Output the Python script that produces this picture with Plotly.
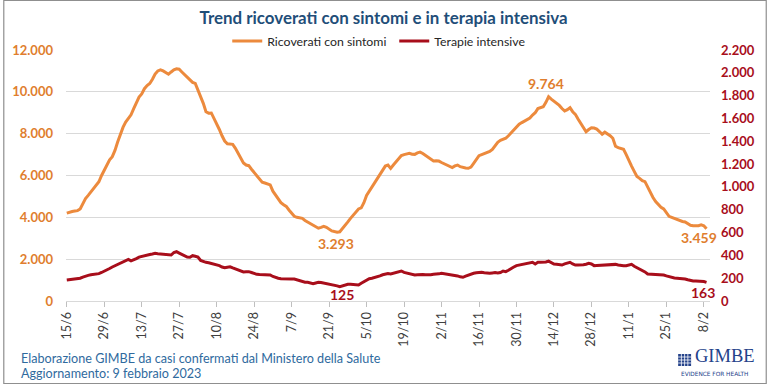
import plotly.graph_objects as go
import pandas as pd
import numpy as np

start_date = "2022-06-15"

ricoverati = [
    4200, 4250, 4280, 4300, 4320, 4400, 4650, 4900, 5050, 5200,
    5350, 5500, 5700, 6000, 6250, 6500, 6750, 6900, 7200, 7600,
    8000, 8300, 8550, 8700, 8900, 9200, 9500, 9750, 9900, 10150,
    10300, 10400, 10600, 10850, 11000, 11050, 11000, 10900, 10840, 10950,
    11050, 11100, 11080, 10950, 10820, 10700, 10550, 10450, 10400, 10100,
    9800, 9450, 9050, 8980, 8990, 8750, 8450, 8200, 7900, 7650,
    7520, 7500, 7490, 7300, 7050, 6800, 6600, 6500, 6470, 6300,
    6150, 6000, 5800, 5680, 5640, 5580, 5550, 5250, 5050, 4900,
    4700, 4600, 4520, 4350, 4200, 4050, 4000, 3980, 3950, 3850,
    3780, 3720, 3650, 3560, 3480, 3520, 3570, 3520, 3420, 3350,
    3320, 3293, 3310, 3450, 3630, 3780, 3950, 4100, 4250, 4400,
    4450, 4700, 5050, 5250, 5450, 5650, 5850, 6020, 6250, 6450,
    6500, 6340, 6500, 6660, 6800, 6950, 7000, 7020, 7060, 7020,
    7010, 7080, 7120, 7050, 6950, 6850, 6750, 6690, 6700, 6690,
    6620, 6560, 6500, 6420, 6380, 6460, 6500, 6420, 6380, 6360,
    6345, 6400, 6580, 6750, 6950, 7000, 7050, 7090, 7150, 7250,
    7450, 7590, 7680, 7745, 7780, 7900, 8050, 8150, 8300, 8450,
    8530, 8600, 8650, 8750, 8890, 9000, 9200, 9250, 9290, 9500,
    9764, 9650, 9550, 9450, 9350, 9200, 9085, 9150, 9240, 9050,
    8925, 8700, 8495, 8300, 8095, 8200, 8285, 8270, 8220, 8100,
    7970, 8070, 8000, 7900, 7780, 7400, 7330, 7300, 7250, 7000,
    6700, 6450, 6200, 5950, 5865, 5750, 5705, 5450, 5150, 4950,
    4750, 4600, 4480, 4400, 4200, 4050, 4000, 3950, 3870, 3830,
    3800, 3780, 3700, 3620, 3600, 3590, 3600, 3640, 3600, 3459,
]

terapie = [
    185, 188, 190, 192, 195, 200, 210, 220, 225, 230,
    232, 235, 240, 250, 260, 270, 285, 298, 310, 320,
    330, 345, 358, 365, 352, 360, 372, 385, 392, 398,
    403, 408, 412, 418, 415, 412, 410, 406, 404, 403,
    425, 432, 420, 410, 398, 385, 383, 397, 392, 385,
    355, 345, 339, 335, 330, 325, 321, 310, 298, 292,
    296, 300, 290, 280, 272, 262, 254, 256, 257, 250,
    240, 234, 232, 230, 228, 228, 228, 215, 204, 200,
    196, 194, 193, 193, 193, 193, 185, 175, 170, 165,
    164, 158, 152, 158, 164, 162, 158, 155, 150, 145,
    140, 133, 125, 134, 140, 146, 146, 143, 140, 140,
    155, 170, 185, 195, 199, 205, 213, 220, 230, 237,
    240, 237, 245, 251, 258, 263, 251, 245, 234, 230,
    228, 230, 234, 232, 230, 228, 230, 234, 234, 238,
    243, 240, 236, 234, 230, 228, 220, 212, 208, 218,
    228, 235, 243, 247, 251, 251, 248, 243, 243, 246,
    249, 245, 250, 263, 257, 270, 286, 298, 310, 315,
    320, 324, 330, 335, 339, 324, 339, 339, 339, 342,
    350, 340, 324, 322, 318, 315, 325, 335, 339, 325,
    315, 315, 315, 318, 322, 330, 325, 310, 312, 314,
    315, 317, 321, 321, 321, 321, 315, 310, 310, 310,
    318, 321, 305, 292, 280, 272, 255, 237, 236, 234,
    234, 232, 230, 228, 220, 213, 204, 202, 200, 199,
    196, 193, 186, 180, 175, 175, 175, 172, 170, 163,
]

tick_labels = ["15/6", "29/6", "13/7", "27/7", "10/8", "24/8", "7/9", "21/9", "5/10",
               "19/10", "2/11", "16/11", "30/11", "14/12", "28/12", "11/1", "25/1", "8/2"]

series_names = ["Ricoverati con sintomi", "Terapie intensive"]
title_text = "Trend ricoverati con sintomi e in terapia intensiva"
footer_lines = ["Elaborazione GIMBE da casi confermati dal Ministero della Salute",
                "Aggiornamento: 9 febbraio 2023"]

# ---------------------------------------------------------------------------
ORANGE_LINE = "#EC8A3D"
ORANGE_TEXT = "#E07E2E"
RED = "#A80E1B"
GRID = "#D9D9D9"
BLUE_TITLE = "#1F4E79"
BLUE_FOOT = "#2F6A9E"
NAVY = "#24428A"
FONT = "Lato"

W, H = 767, 384
ML, MR, MT, MB = 63, 57, 50, 83
PW, PH = W - ML - MR, H - MT - MB


def px(xp):
    return (xp - ML) / PW


def py(yp):
    return (H - MB - yp) / PH


def fmt(v):
    return f"{v:,}".replace(",", ".")


dates = pd.date_range(start_date, periods=len(ricoverati), freq="D")
tick_dates = pd.date_range(start_date, periods=len(tick_labels), freq="14D")
t0 = pd.Timestamp(start_date)

fig = go.Figure()
fig.add_trace(go.Scatter(x=dates, y=ricoverati, name=series_names[0], mode="lines",
                         line=dict(color=ORANGE_LINE, width=3)))
fig.add_trace(go.Scatter(x=dates, y=terapie, name=series_names[1], mode="lines", yaxis="y2",
                         line=dict(color=RED, width=3)))

r = np.array(ricoverati)
t = np.array(terapie)
i_rmin = int(np.argmin(r[60:140]) + 60)
i_rmax = int(np.argmax(r[140:]) + 140)
i_tmin = int(np.argmin(t))
i_last = len(r) - 1

ann = []
ann.append(dict(x=dates[i_rmin], y=r[i_rmin], xref="x", yref="y", text=fmt(int(r[i_rmin])),
                showarrow=False, yshift=-11, xshift=-1,
                font=dict(family=FONT, size=14, color=ORANGE_TEXT, weight="bold")))
ann.append(dict(x=dates[i_rmax], y=r[i_rmax], xref="x", yref="y", text=fmt(int(r[i_rmax])),
                showarrow=False, yshift=13, xshift=-3,
                font=dict(family=FONT, size=14, color=ORANGE_TEXT, weight="bold")))
ann.append(dict(x=dates[i_last], y=r[i_last], xref="x", yref="y", text=fmt(int(r[i_last])),
                showarrow=False, yshift=-9, xshift=-8,
                font=dict(family=FONT, size=14, color=ORANGE_TEXT, weight="bold")))
ann.append(dict(x=dates[i_tmin], y=t[i_tmin], xref="x", yref="y2", text=fmt(int(t[i_tmin])),
                showarrow=False, yshift=-8, xshift=2,
                font=dict(family=FONT, size=14, color=RED, weight="bold")))
ann.append(dict(x=dates[i_last], y=t[i_last], xref="x", yref="y2", text=fmt(int(t[i_last])),
                showarrow=False, yshift=-10, xshift=-4,
                font=dict(family=FONT, size=14, color=RED, weight="bold")))

for k, line in enumerate(footer_lines):
    ann.append(dict(x=px(16), y=py(358 + 15 * k), xref="paper", yref="paper", text=line,
                    showarrow=False, xanchor="left", yanchor="middle",
                    font=dict(family=FONT, size=12.6, color=BLUE_FOOT)))

# logo
ann.append(dict(x=px(693), y=py(368), xref="paper", yref="paper", text="GIMBE",
                showarrow=False, xanchor="left", yanchor="bottom",
                font=dict(family="Liberation Serif", size=18.5, color=NAVY)))
ann.append(dict(x=px(715), y=py(368.5), xref="paper", yref="paper", text="EVIDENCE FOR HEALTH",
                showarrow=False, xanchor="center", yanchor="top",
                font=dict(family="DejaVu Sans", size=5.8, color=NAVY)))

shapes = [
    dict(type="rect", xref="paper", yref="paper", x0=px(0.5), x1=px(W - 0.5),
         y0=py(H - 0.5), y1=py(0.5), line=dict(color="#8F8F8F", width=1.2), layer="above"),
    dict(type="rect", xref="paper", yref="paper", x0=px(678), x1=px(691),
         y0=py(366), y1=py(354), line=dict(width=0), fillcolor=NAVY),
]
for g in range(1, 4):
    shapes.append(dict(type="line", xref="paper", yref="paper", x0=px(678 + 3.25 * g), x1=px(678 + 3.25 * g),
                       y0=py(366), y1=py(354), line=dict(color="white", width=0.8)))
    shapes.append(dict(type="line", xref="paper", yref="paper", x0=px(678), x1=px(691),
                       y0=py(354 + 3 * g), y1=py(354 + 3 * g), line=dict(color="white", width=0.8)))

fig.update_layout(
    width=W, height=H,
    margin=dict(l=ML, r=MR, t=MT, b=MB),
    paper_bgcolor="white", plot_bgcolor="white",
    separators=",.",
    title=dict(text=title_text, x=0.5, xanchor="center", y=1 - 18 / H, yanchor="middle",
               font=dict(family=FONT, size=16.9, color=BLUE_TITLE, weight="bold")),
    legend=dict(orientation="h", x=px(225), xanchor="left", y=py(41), yanchor="middle",
                font=dict(family=FONT, size=12.3, color="#262626"),
                bgcolor="rgba(0,0,0,0)", itemwidth=30, traceorder="normal",
                entrywidthmode="pixels", entrywidth=122),
    xaxis=dict(type="date",
               range=[t0 - pd.Timedelta(hours=7), t0 + pd.Timedelta(days=240.3)],
               tickmode="array", tickvals=tick_dates, ticktext=tick_labels, tickangle=-90,
               ticks="outside", ticklen=5, tickcolor="#BFBFBF", showline=True, linecolor=GRID,
               linewidth=1, showgrid=False, zeroline=False,
               tickfont=dict(family=FONT, size=12.5, color="#404040")),
    yaxis=dict(range=[0, 12000], dtick=2000, tickformat=",d", showgrid=True, gridcolor=GRID,
               gridwidth=1, zeroline=False, showline=False, ticks="", ticklabelstandoff=12,
               tickfont=dict(family=FONT, size=13, color=ORANGE_TEXT, weight="bold")),
    yaxis2=dict(range=[0, 2200], dtick=200, tickformat=",d", overlaying="y", side="right",
                showgrid=False, zeroline=False, showline=False, ticks="", ticklabelstandoff=10,
                tickfont=dict(family=FONT, size=13, color=RED, weight="bold")),
    annotations=ann,
    shapes=shapes,
)

fig.write_html("out.html")
